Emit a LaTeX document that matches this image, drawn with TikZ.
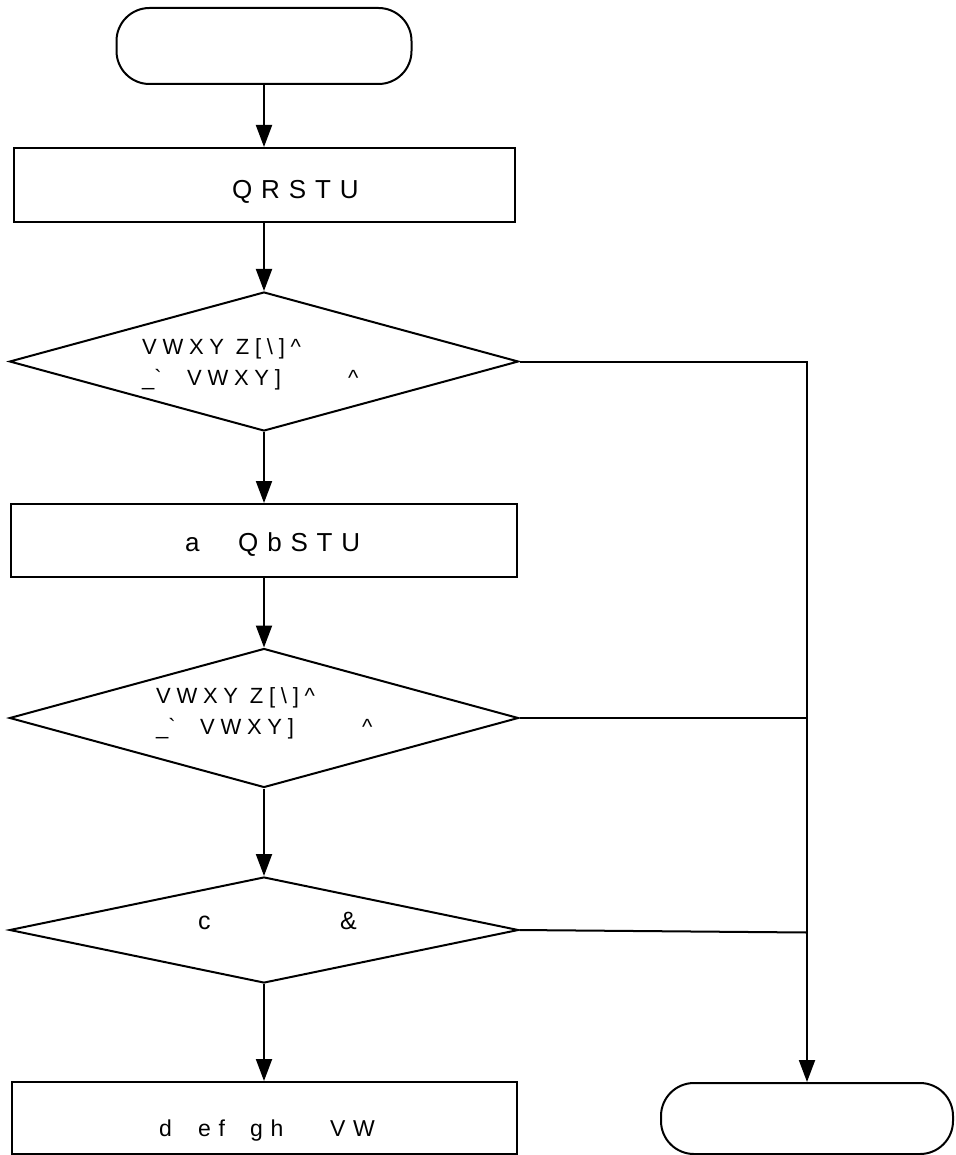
\documentclass[tikz,border=0pt]{standalone}
\usepackage{fontspec}
\setmainfont{Liberation Sans}
\usetikzlibrary{shapes.geometric,arrows.meta}
\begin{document}
\begin{tikzpicture}[x=1pt,y=-1pt,
  shp/.style={draw=black, line width=2pt, inner sep=0pt},
  terminal/.style={shp, rectangle, rounded corners=33pt},
  stepbox/.style={shp, rectangle},
  decision/.style={shp, diamond, aspect=3.66},
  conn/.style={draw=black, line width=2pt, -{Triangle[length=22pt,width=16pt]}},
  plain/.style={draw=black, line width=2pt},
  big/.style={anchor=base west, inner sep=0pt, font=\fontsize{26pt}{30pt}\selectfont\addfontfeature{LetterSpace=34}},
  small/.style={anchor=base west, inner sep=0pt, font=\fontsize{22pt}{26pt}\selectfont\addfontfeature{LetterSpace=26}},
  mid/.style={anchor=base west, inner sep=0pt, font=\fontsize{25pt}{28pt}\selectfont},
  low/.style={anchor=base west, inner sep=0pt, font=\fontsize{23pt}{27pt}\selectfont\addfontfeature{LetterSpace=33}},
]
\useasboundingbox[fill=white] (0,0) rectangle (955,1155);

% shapes
\node[terminal, minimum width=295pt, minimum height=76pt] (start) at (264,46) {};
\node[stepbox, minimum width=501pt, minimum height=74pt] (r1) at (264,185) {};
\node[decision, minimum width=509pt, minimum height=139pt] (d1) at (264,361.5) {};
\node[stepbox, minimum width=506pt, minimum height=73pt] (r2) at (264,540.5) {};
\node[decision, minimum width=509pt, minimum height=139pt] (d2) at (264,718) {};
\node[decision, minimum width=509pt, minimum height=106pt] (d3) at (264,930) {};
\node[stepbox, minimum width=505pt, minimum height=72pt] (r3) at (264,1118) {};
\node[terminal, minimum width=292pt, minimum height=71pt] (end) at (807,1118.5) {};

% texts
\node[big] (t1) at (232,199) {QRSTU};
\node[small] (t2a) at (142,354) {VWXY Z[\textbackslash]\textasciicircum};
\node[small] (t2b) at (142,385) {\makebox[45pt][l]{\_\textasciigrave}\makebox[161pt][l]{VWXY]}\textasciicircum};
\node[big] (t3) at (185,551) {\makebox[53pt][l]{a}QbSTU};
\node[small] (t4a) at (156,703) {VWXY Z[\textbackslash]\textasciicircum};
\node[small] (t4b) at (156,734) {\makebox[44pt][l]{\_\textasciigrave}\makebox[162pt][l]{VWXY]}\textasciicircum};
\node[mid] (t5a) at (198,929) {c};
\node[mid] (t5b) at (340,929) {\&};
\node[low] (t6) at (159,1136) {\makebox[39pt][l]{d}\makebox[52pt][l]{ef}\makebox[80pt][l]{gh}VW};

% connectors
\coordinate (j2) at (d2.east -| end.north);
\coordinate (j3) at (807,932.5);
\draw[conn] (start.south) -- (r1.north);
\draw[conn] (r1.south) -- (d1.north);
\draw[conn] (d1.south) -- (r2.north);
\draw[conn] (r2.south) -- (d2.north);
\draw[conn] (d2.south) -- (d3.north);
\draw[conn] (d3.south) -- (r3.north);
\draw[conn] (d1.east) -| (end.north);
\draw[plain] (d2.east) -- (j2);
\draw[plain] (d3.east) -- (j3);
\end{tikzpicture}
\end{document}
